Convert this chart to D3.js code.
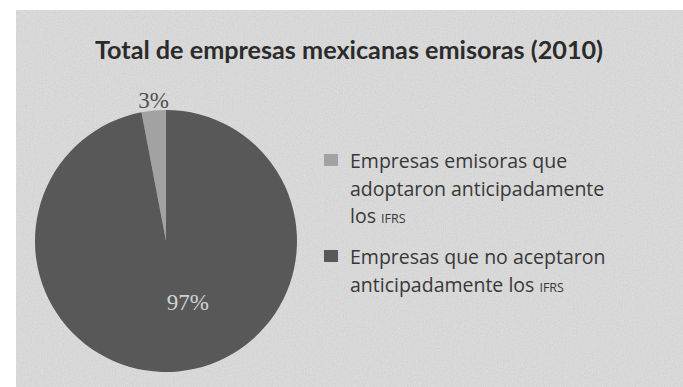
<!DOCTYPE html>
<html>
<head>
<meta charset="utf-8">
<title>Total de empresas mexicanas emisoras (2010)</title>
<script src="https://cdnjs.cloudflare.com/ajax/libs/d3/7.8.5/d3.min.js"></script>
<style>
  body { margin: 0; background: #fff; }
  svg { display: block; }
</style>
</head>
<body>
<svg id="chart" width="683" height="387"></svg>
<script>
// data
var titleText = 'Total de empresas mexicanas emisoras (2010)';
var categories = ['adoptaron', 'noAceptaron'];
var values = [3, 97];
var sliceLabels = ['3%', '97%'];
var legendLines = [
    [['Empresas emisoras que'], ['adoptaron anticipadamente'], ['los ', 'IFRS']],
    [['Empresas que no aceptaron'], ['anticipadamente los ', 'IFRS']]
];
var colors = ['#a2a2a2', '#585858'];

var svg = d3.select('#chart');

// textured gray panel (scanned paper look)
var defs = svg.append('defs');
var f = defs.append('filter').attr('id', 'grain').attr('x', 0).attr('y', 0).attr('width', 1).attr('height', 1);
f.append('feTurbulence').attr('type', 'fractalNoise').attr('baseFrequency', '0.9 0.6').attr('numOctaves', 2).attr('seed', 3).attr('result', 'n');
f.append('feColorMatrix').attr('in', 'n').attr('type', 'matrix')
    .attr('values', '0.33 0.33 0.33 0 0  0.33 0.33 0.33 0 0  0.33 0.33 0.33 0 0  0 0 0 0 0.18');

svg.append('rect').attr('x', 16).attr('y', 10).attr('width', 667).attr('height', 377).attr('fill', '#dedede');
svg.append('rect').attr('x', 16).attr('y', 10).attr('width', 667).attr('height', 377).attr('fill', '#fff').attr('filter', 'url(#grain)');

svg.append('text')
    .attr('x', 95).attr('y', 59)
    .attr('font-family', 'Lato, sans-serif')
    .attr('font-weight', 'bold')
    .attr('font-size', 25.2)
    .attr('fill', '#2b2b2b')
    .text(titleText);

// pie
var cx = 166, cy = 241, r = 131;
var a0 = -values[0] / d3.sum(values) * 2 * Math.PI;
var pie = d3.pie().sort(null).startAngle(a0).endAngle(a0 + 2 * Math.PI);
var arc = d3.arc().innerRadius(0).outerRadius(r);
var arcs = pie(values);

var g = svg.append('g').attr('transform', 'translate(' + cx + ',' + cy + ')');
g.selectAll('path').data(arcs).enter().append('path')
    .attr('d', arc)
    .attr('fill', function (d, i) { return colors[i]; });

// slice labels: small one outside above, big one inside
var outerArc = d3.arc().innerRadius(r + 11).outerRadius(r + 11);
var innerArc = d3.arc().innerRadius(r * 0.47).outerRadius(r * 0.47);
g.selectAll('text.lbl').data(arcs).enter().append('text')
    .attr('class', 'lbl')
    .attr('transform', function (d, i) {
        var p = i === 0 ? outerArc.centroid(d) : innerArc.centroid(d);
        return 'translate(' + (p[0] + (i === 0 ? 1 : 16)) + ',' + p[1] + ')';
    })
    .attr('text-anchor', 'middle')
    .attr('dy', '0.35em')
    .attr('font-family', '"Liberation Serif", serif')
    .attr('font-size', 23)
    .attr('fill', function (d, i) { return i === 0 ? '#505050' : '#d2d2d2'; })
    .text(function (d, i) { return sliceLabels[i]; });

// legend
var lx = 324, lineH = 27.5;
var blockY = [168, 264];
legendLines.forEach(function (lines, k) {
    svg.append('rect')
        .attr('x', lx).attr('y', blockY[k] - 14)
        .attr('width', 14).attr('height', 12)
        .attr('fill', colors[k]);
    lines.forEach(function (parts, j) {
        var t = svg.append('text')
            .attr('x', lx + 26).attr('y', blockY[k] + j * lineH)
            .attr('font-family', '"Open Sans", sans-serif')
            .attr('font-size', 19.5)
            .attr('fill', '#383838');
        t.append('tspan').text(parts[0]);
        if (parts[1]) t.append('tspan').attr('font-size', 12.5).text(parts[1]);
    });
});
</script>
</body>
</html>
